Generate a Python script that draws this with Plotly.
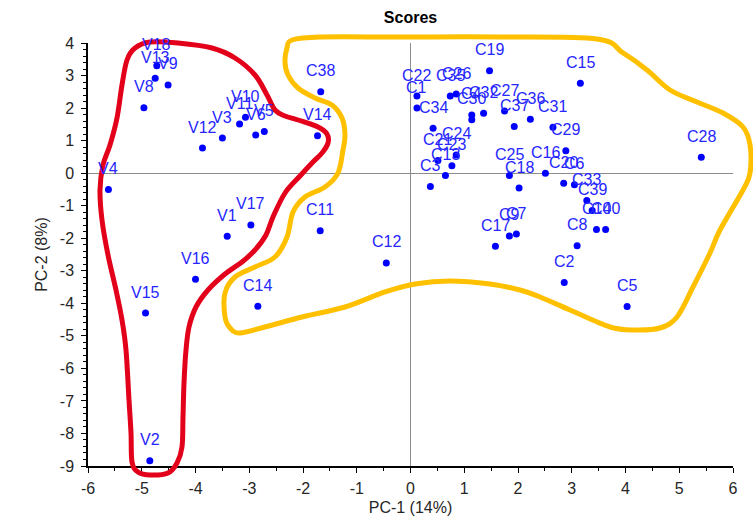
import plotly.graph_objects as go

# ---- data ----
sample_names = ["V18", "V13", "V9", "V8", "V12", "V3", "V11", "V10", "V6", "V5", "V14",
                "V4", "V17", "V1", "V16", "V15", "V2",
                "C38", "C11", "C14", "C12", "C19", "C22", "C1", "C35", "C26", "C4", "C30",
                "C32", "C27", "C36", "C37", "C34", "C24", "C21", "C23", "C13", "C3", "C25",
                "C18", "C16", "C31", "C29", "C15", "C28", "C20", "C6", "C33", "C39", "C10",
                "C40", "C8", "C2", "C5", "C17", "C9", "C7"]
pc1 = [-4.72, -4.75, -4.51, -4.96, -3.87, -3.50, -3.18, -3.07, -2.88, -2.72, -1.73,
       -5.62, -2.97, -3.41, -4.00, -4.93, -4.85,
       -1.67, -1.68, -2.84, -0.45, 1.47, 0.12, 0.12, 0.74, 0.85, 1.14, 1.14,
       1.36, 1.75, 2.23, 1.93, 0.42, 0.85, 0.51, 0.77, 0.65, 0.37, 1.84,
       2.02, 2.51, 2.65, 2.89, 3.16, 5.41, 2.85, 3.05, 3.28, 3.38, 3.46,
       3.63, 3.10, 2.86, 4.03, 1.58, 1.84, 1.97]
pc2 = [3.30, 2.92, 2.71, 2.01, 0.77, 1.08, 1.51, 1.72, 1.17, 1.28, 1.15,
       -0.50, -1.59, -1.94, -3.26, -4.30, -8.84,
       2.50, -1.77, -4.09, -2.76, 3.15, 2.37, 2.00, 2.37, 2.43, 1.79, 1.64,
       1.84, 1.91, 1.66, 1.43, 1.38, 0.56, 0.39, 0.23, -0.07, -0.41, -0.07,
       -0.46, 0.00, 1.41, 0.69, 2.76, 0.49, -0.31, -0.36, -0.84, -1.15, -1.73,
       -1.73, -2.23, -3.36, -4.10, -2.25, -1.93, -1.87]

x_tick_values = [-6, -5, -4, -3, -2, -1, 0, 1, 2, 3, 4, 5, 6]
x_tick_labels = ["-6", "-5", "-4", "-3", "-2", "-1", "0", "1", "2", "3", "4", "5", "6"]
y_tick_values = [4, 3, 2, 1, 0, -1, -2, -3, -4, -5, -6, -7, -8, -9]
y_tick_labels = ["4", "3", "2", "1", "0", "-1", "-2", "-3", "-4", "-5", "-6", "-7", "-8", "-9"]

title_text = "Scores"
x_title = "PC-1 (14%)"
y_title = "PC-2 (8%)"

# ---- hand-drawn outlines (pixel positions of the freehand annotations) ----
red_outline_px = [(100, 190), (103, 165), (110, 145), (117, 118), (122, 85), (127, 60), (135, 48),
                  (150, 42), (178, 43), (212, 48), (235, 58), (255, 75), (267, 95), (275, 110),
                  (285, 116), (298, 120), (318, 127), (327, 134), (328, 143), (322, 153),
                  (312, 163), (300, 176), (285, 193), (273, 217), (266, 235), (255, 250),
                  (242, 262), (225, 274), (208, 290), (196, 307), (189, 327), (186, 350),
                  (184, 383), (183, 417), (182, 447), (177, 463), (168, 473), (150, 475),
                  (138, 472), (132, 462), (131, 433), (129, 400), (126, 350), (122, 320),
                  (116, 290), (108, 255), (102, 220)]
yellow_outline_px = [(292, 40), (320, 37), (400, 37), (500, 37), (597, 39), (623, 53), (647, 70),
                     (670, 90), (697, 102), (723, 113), (743, 127), (750, 145), (750, 173),
                     (743, 190), (720, 230), (710, 253), (693, 287), (677, 317), (660, 328),
                     (635, 330), (610, 327), (570, 310), (540, 297), (520, 290), (490, 284),
                     (450, 281), (415, 284), (385, 292), (345, 307), (302, 317), (265, 327),
                     (240, 333), (230, 328), (225, 317), (225, 293), (235, 277), (255, 267),
                     (275, 257), (287, 237), (293, 212), (305, 197), (325, 187), (338, 173),
                     (343, 150), (345, 135), (342, 118), (332, 105), (315, 98), (298, 88),
                     (288, 75), (285, 62), (287, 48)]

W, H = 753, 520
ML, MR, MT, MB = 88, 20, 43, 54
PW, PH = W - ML - MR, H - MT - MB


def to_paper(p):
    return ((p[0] - ML) / PW, (H - MB - p[1]) / PH)


def smooth_closed_path(pts_px):
    pts = [to_paper(p) for p in pts_px]
    n = len(pts)
    d = "M %.5f,%.5f" % pts[0]
    for i in range(n):
        p0, p1, p2, p3 = pts[i - 1], pts[i], pts[(i + 1) % n], pts[(i + 2) % n]
        c1 = (p1[0] + (p2[0] - p0[0]) / 6, p1[1] + (p2[1] - p0[1]) / 6)
        c2 = (p2[0] - (p3[0] - p1[0]) / 6, p2[1] - (p3[1] - p1[1]) / 6)
        d += " C %.5f,%.5f %.5f,%.5f %.5f,%.5f" % (c1 + c2 + p2)
    return d + " Z"


fig = go.Figure()
fig.add_trace(go.Scatter(
    x=pc1, y=pc2, mode="markers",
    marker=dict(color="#0000ff", size=7, line=dict(width=0)),
    hovertext=sample_names, showlegend=False, cliponaxis=False,
))

label_font = dict(family="Liberation Sans, Arial, sans-serif", size=16, color="#2626ff")
annotations = [dict(x=x, y=y, text=t, showarrow=False, yshift=21, xref="x", yref="y",
                    font=label_font)
               for x, y, t in zip(pc1, pc2, sample_names)]

shapes = [
    dict(type="path", path=smooth_closed_path(yellow_outline_px), xref="paper", yref="paper",
         line=dict(color="#ffc000", width=5), layer="above"),
    dict(type="path", path=smooth_closed_path(red_outline_px), xref="paper", yref="paper",
         line=dict(color="#e3001b", width=5), layer="above"),
]

tick_font = dict(family="Liberation Sans, Arial, sans-serif", size=16, color="#262626")

fig.update_layout(
    width=W, height=H,
    margin=dict(l=ML, r=MR, t=MT, b=MB, pad=0, autoexpand=False),
    paper_bgcolor="white", plot_bgcolor="white",
    title=dict(text="<b>" + title_text + "</b>", x=0.5, xref="paper", xanchor="center",
               y=1 - 17 / H, yref="container", yanchor="middle",
               font=dict(family="Liberation Sans Narrow, Arial Narrow, Liberation Sans, sans-serif",
                         size=16, color="black")),
    annotations=annotations,
    shapes=shapes,
    xaxis=dict(range=[-6, 6], tickmode="array", tickvals=x_tick_values, ticktext=x_tick_labels,
               showgrid=False, automargin=False,
               zeroline=True, zerolinecolor="#8c8c8c", zerolinewidth=1,
               showline=True, linecolor="black", linewidth=1.5,
               ticks="outside", ticklen=5, tickwidth=1, tickcolor="black",
               minor=dict(ticks="outside", dtick=0.5, tick0=0, ticklen=3, tickcolor="black",
                          showgrid=False),
               tickfont=tick_font, ticklabelstandoff=2,
               title=dict(text=x_title, font=tick_font, standoff=6)),
    yaxis=dict(range=[-9, 4], tickmode="array", tickvals=y_tick_values, ticktext=y_tick_labels,
               showgrid=False, automargin=False,
               zeroline=True, zerolinecolor="#8c8c8c", zerolinewidth=1,
               showline=True, linecolor="black", linewidth=1.5,
               ticks="outside", ticklen=5, tickwidth=1, tickcolor="black",
               minor=dict(ticks="outside", dtick=0.2, tick0=0, ticklen=3, tickcolor="black",
                          showgrid=False),
               tickfont=tick_font, ticklabelstandoff=4,
               title=dict(text=y_title, font=tick_font, standoff=8)),
)

fig.write_html("out.html", config={"displayModeBar": False},
               post_script="document.body.style.margin='0px';document.body.style.padding='0px';")
